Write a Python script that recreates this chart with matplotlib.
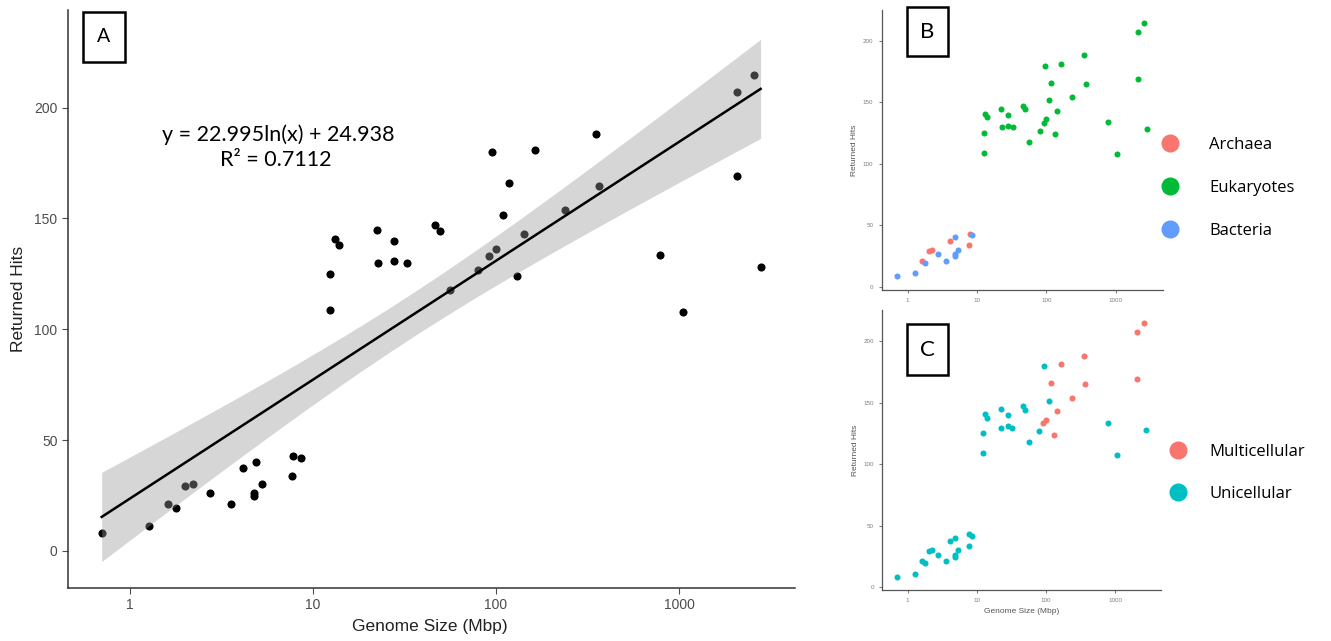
import numpy as np
import matplotlib.pyplot as plt
from matplotlib.patches import Rectangle
from matplotlib.lines import Line2D

plt.rcParams['font.family'] = ['Liberation Sans', 'DejaVu Sans']

# genome size (Mbp), returned hits, domain, cellularity
genome_size = [0.70, 1.27, 1.62, 1.79, 2.00, 2.21, 2.73, 3.58, 4.13, 4.86,
               4.78, 4.78, 5.27, 7.65, 7.78, 8.57,
               12.4, 12.4, 13.2, 13.9, 22.3, 22.6, 27.7, 27.7, 32.6, 46.4,
               49.7, 56.3, 79.7, 91.5, 99.6, 94.7, 109, 118, 131, 141.7,
               163, 237, 350, 367, 784, 1047, 2066, 2066, 2578, 2793]
returned_hits = [8.3, 11.2, 21.0, 19.4, 29.1, 30.2, 26.2, 21.0, 37.2, 40.2,
                 26.2, 25.0, 30.2, 33.7, 42.9, 41.8,
                 108.9, 125.1, 140.8, 137.8, 144.6, 129.7, 140.0, 130.8, 129.7, 147.2,
                 144.1, 117.9, 126.8, 133.2, 136.0, 179.8, 151.6, 166.0, 123.8, 143.0,
                 181.0, 153.9, 188.0, 164.7, 133.6, 107.6, 207.1, 169.0, 214.5, 127.9]
domain = ['Bacteria', 'Bacteria', 'Archaea', 'Bacteria', 'Archaea', 'Archaea',
          'Bacteria', 'Bacteria', 'Archaea', 'Bacteria', 'Bacteria', 'Bacteria',
          'Bacteria', 'Archaea', 'Archaea', 'Bacteria'] + ['Eukaryotes'] * 30
multicellular_idx = [29, 30, 33, 34, 35, 36, 37, 38, 39, 42, 43, 44]
cellularity = ['Multicellular' if i in multicellular_idx else 'Unicellular'
               for i in range(len(genome_size))]

domain_levels = ['Archaea', 'Eukaryotes', 'Bacteria']
domain_colors = ['#F8766D', '#00BA38', '#619CFF']
cell_levels = ['Multicellular', 'Unicellular']
cell_colors = ['#F8766D', '#00BFC4']

equation = 'y = 22.995ln(x) + 24.938'
r_squared = 'R\u00b2 = 0.7112'

x = np.array(genome_size)
y = np.array(returned_hits)

W, H = 1331, 641
fig = plt.figure(figsize=(W / 100, H / 100), dpi=100)


def px_axes(left, top, right, bottom):
    return fig.add_axes([left / W, 1 - bottom / H, (right - left) / W, (bottom - top) / H])


def style(ax, tick_size, length, color='#4d4d4d'):
    ax.set_xscale('log')
    for s in ['top', 'right']:
        ax.spines[s].set_visible(False)
    for s in ['left', 'bottom']:
        ax.spines[s].set_color('#333333')
    ax.tick_params(labelsize=tick_size, colors=color, length=length, labelcolor=color)
    ax.set_xticks([1, 10, 100, 1000])
    ax.set_xticklabels(['1', '10', '100', '1000'])
    ax.set_yticks([0, 50, 100, 150, 200])
    ax.xaxis.set_minor_locator(plt.NullLocator())


def letter_box(left, top, right, bottom, letter, size):
    fig.add_artist(Rectangle((left / W, 1 - bottom / H), (right - left) / W, (bottom - top) / H,
                             transform=fig.transFigure, fill=False, lw=1.8, ec='black'))
    fig.text((left + right) / 2 / W, 1 - (top + bottom) / 2 / H, letter, ha='center',
             va='center', fontsize=size, family='Lato')


# ---- panel A
axA = px_axes(68, 10, 795, 588)
style(axA, 10, 4)
for s in ['left', 'bottom']:
    axA.spines[s].set_linewidth(1.1)
axA.set_xlim(10 ** -0.339, 10 ** 3.634)
axA.set_ylim(-16.7, 244)
axA.scatter(x, y, s=34, color='black', zorder=2, linewidths=0)

# linear fit on log scale with 95% confidence band
lx = np.log10(x)
b, a = np.polyfit(lx, y, 1)
n = len(x)
resid = y - (a + b * lx)
se = np.sqrt(np.sum(resid ** 2) / (n - 2))
grid = np.linspace(lx.min(), lx.max(), 100)
fit = a + b * grid
band = 2.015 * se * np.sqrt(1 / n + (grid - lx.mean()) ** 2 / np.sum((lx - lx.mean()) ** 2))
axA.fill_between(10 ** grid, fit - band, fit + band, color='#999999', alpha=0.4, lw=0, zorder=3)
axA.plot(10 ** grid, fit, color='black', lw=1.8, zorder=4)

axA.set_xlabel('Genome Size (Mbp)', fontsize=12.5, color='#222222')
axA.set_ylabel('Returned Hits', fontsize=12.5, color='#222222')
axA.xaxis.set_label_coords(0.498, -0.053)
axA.yaxis.set_label_coords(-0.058, 0.5)
fig.text(278 / W, 1 - 135 / H, equation, ha='center', va='center', fontsize=15.5, family='Lato')
fig.text(276 / W, 1 - 160 / H, r_squared, ha='center', va='center', fontsize=15.5, family='Lato')
letter_box(83, 12, 125, 62, 'A', 14)

# ---- panels B and C
panels = [
    (px_axes(881.7, 10, 1163, 290), domain, domain_levels, domain_colors,
     (-0.375, 3.68), (-2.7, 225), 'B', (907, 7, 948, 56)),
    (px_axes(882.3, 310, 1160.7, 590), cellularity, cell_levels, cell_colors,
     (-0.367, 3.656), (-2.2, 225.2), 'C', (907, 324, 948, 375)),
]
for ax, groups, levels, colors, xl, yl, letter, box in panels:
    style(ax, 4.5, 2.5, color='#7f7f7f')
    for s in ['left', 'bottom']:
        ax.spines[s].set_linewidth(0.9)
        ax.spines[s].set_color('#555555')
    ax.set_xlim(10 ** xl[0], 10 ** xl[1])
    ax.set_ylim(*yl)
    for lev, col in zip(levels, colors):
        m = np.array([g == lev for g in groups])
        ax.scatter(x[m], y[m], s=19, color=col, linewidths=0)
    ax.set_ylabel('Returned Hits', fontsize=6, color='#555555')
    ax.yaxis.set_label_coords(-0.085, 0.5)
    letter_box(*box, letter, 16)

axC = panels[1][0]
axC.set_xlabel('Genome Size (Mbp)', fontsize=6, color='#555555')
axC.xaxis.set_label_coords(0.5, -0.065)

# legends
for ax, levels, colors, left, yc, pad, spacing in [
        (panels[0][0], domain_levels, domain_colors, 1161.6, 188, 1.84, 1.62),
        (panels[1][0], cell_levels, cell_colors, 1169.7, 473, 1.36, 1.58)]:
    handles = [Line2D([], [], ls='', marker='o', ms=13, color=c, mec='none') for c in colors]
    ax.legend(handles, levels, loc='center left', bbox_to_anchor=(left / W, 1 - yc / H),
              bbox_transform=fig.transFigure, frameon=False, borderpad=0, borderaxespad=0,
              handlelength=1.0, handletextpad=pad, labelspacing=spacing,
              prop={'family': 'Open Sans', 'size': 12})

plt.savefig('out.png', dpi=100)
